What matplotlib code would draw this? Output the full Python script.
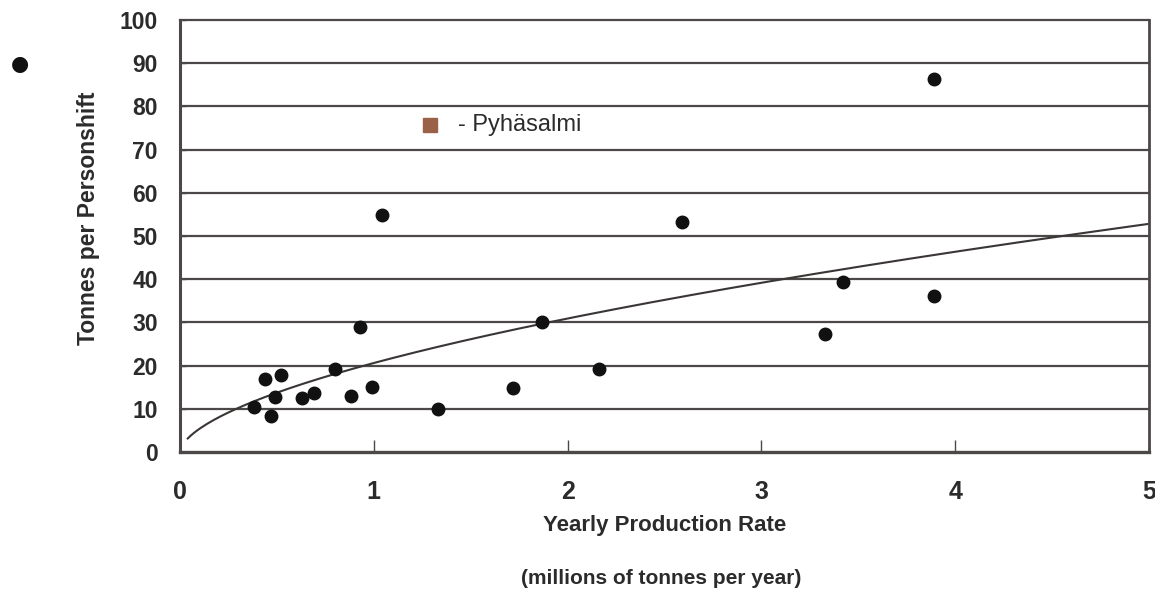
import numpy as np
import matplotlib
matplotlib.use("Agg")
import matplotlib.pyplot as plt

# Mine productivity vs. yearly production rate
production_rate = [0.38, 0.44, 0.47, 0.49, 0.52, 0.63, 0.69, 0.80, 0.88, 0.93,
                   0.99, 1.04, 1.33, 1.72, 1.87, 2.16, 2.59, 3.33, 3.42, 3.89, 3.89]
tonnes_per_shift = [10.5, 16.8, 8.3, 12.7, 17.8, 12.6, 13.7, 19.1, 13.0, 29.0,
                    15.1, 54.9, 10.0, 14.7, 30.2, 19.2, 53.3, 27.4, 39.3, 36.2, 86.3]

# Power-law trend line  y = a * x^b
trend_a = 20.6
trend_b = 0.585
trend_x_range = [0.04, 5.0]

# Highlighted mine
highlight_name = "Pyhäsalmi"
highlight_pos = [1.29, 75.7]

x_ticks = [0, 1, 2, 3, 4, 5]
y_ticks = [0, 10, 20, 30, 40, 50, 60, 70, 80, 90, 100]

text_color = "#2b2b2b"
grid_color = "#4d4848"
font = ["Liberation Sans", "DejaVu Sans"]

W, H = 1155, 592
fig = plt.figure(figsize=(W / 100, H / 100), dpi=100)
ax = fig.add_axes([180 / W, 1 - 452 / H, 969 / W, 432 / H])

ax.set_xlim(0, 5)
ax.set_ylim(0, 100)

for yv in y_ticks[1:-1]:
    ax.axhline(yv, color=grid_color, lw=1.6, zorder=1)

xs = np.linspace(trend_x_range[0], trend_x_range[1], 300)
ax.plot(xs, trend_a * xs ** trend_b, color="#3a3636", lw=1.5, zorder=2)

ax.plot(production_rate, tonnes_per_shift, "o", color="#111111",
        markersize=9, zorder=3)

for side in ["left", "bottom", "right", "top"]:
    ax.spines[side].set_color(grid_color)
ax.spines["left"].set_linewidth(2.2)
ax.spines["bottom"].set_linewidth(2.4)
ax.spines["right"].set_linewidth(2.0)
ax.spines["top"].set_linewidth(1.6)

ax.set_xticks(x_ticks)
ax.set_yticks(y_ticks)
ax.set_xticklabels([str(v) for v in x_ticks], family=font,
                   fontweight="bold", fontsize=18, color=text_color)
ax.set_yticklabels([str(v) for v in y_ticks], family=font,
                   fontweight="bold", fontsize=16.5, color=text_color)
ax.tick_params(axis="x", direction="in", length=9, width=1.0,
               color=grid_color, pad=20)
ax.tick_params(axis="y", direction="in", length=4, width=1.0,
               color=grid_color, pad=16)

fig.text(89 / W, 1 - 218 / H, "Tonnes per Personshift", family=font,
         fontweight="bold", fontsize=16.5, color=text_color, rotation=90,
         ha="center", va="center")

fig.text(665 / W, 1 - 526 / H, "Yearly Production Rate", family=font,
         fontweight="bold", fontsize=16, color=text_color,
         ha="center", va="center")
fig.text(661 / W, 1 - 578 / H, "(millions of tonnes per year)",
         family=font, fontweight="bold", fontsize=15,
         color=text_color, ha="center", va="center")

# In-plot annotation
ax.plot([highlight_pos[0]], [highlight_pos[1]], "s", color="#9a6048",
        markersize=10, zorder=3)
ax.text(highlight_pos[0] + 0.145, highlight_pos[1], "- " + highlight_name,
        family=font, fontsize=17, color=text_color, va="center", ha="left")

# Bullet in the left margin
fig.text(20 / W, 1 - 64 / H, "●", family=["DejaVu Sans"], fontsize=15,
         color="#111111", ha="center", va="center")

fig.savefig("out.png", dpi=100, facecolor="white")
